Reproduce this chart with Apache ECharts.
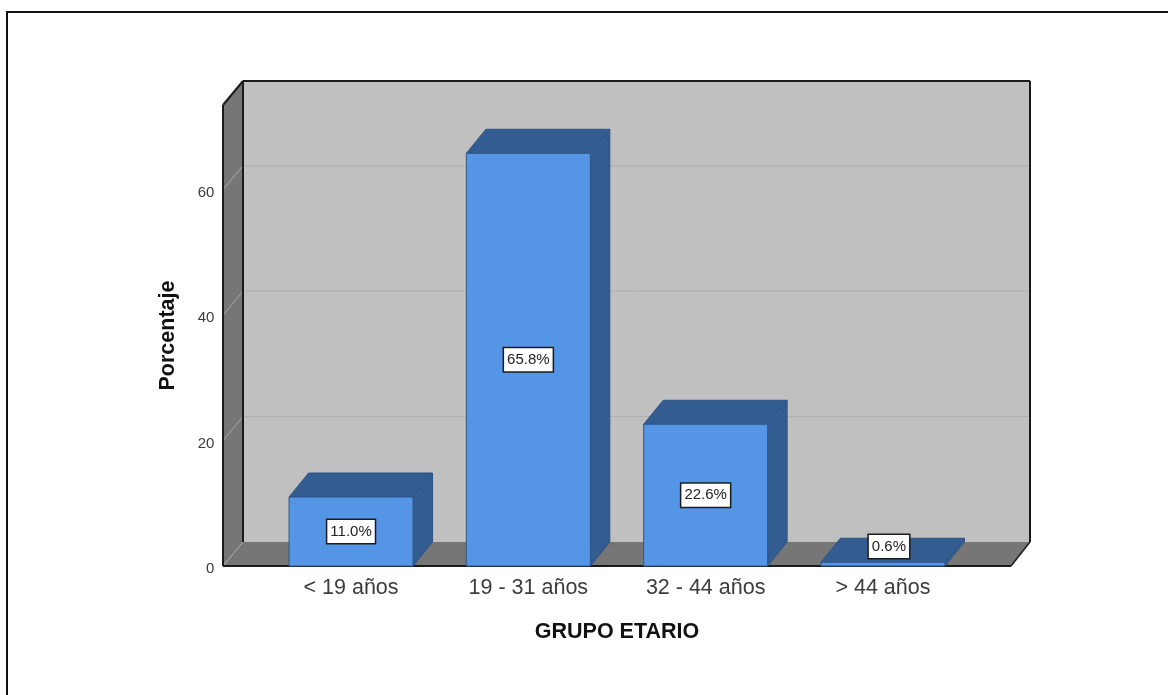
<!DOCTYPE html>
<html>
<head>
<meta charset="utf-8">
<style>
  html, body { margin: 0; padding: 0; background: #fff; }
  #chart { width: 1168px; height: 695px; }
</style>
<script src="https://cdn.jsdelivr.net/npm/echarts@6/dist/echarts.min.js"></script>
</head>
<body>
<div id="chart"></div>
<script>
// Percentage of respondents per age group
const categories = ['< 19 años', '19 - 31 años', '32 - 44 años', '> 44 años'];
const percentages = [11.0, 65.8, 22.6, 0.6];
const gridTicks = [20, 40, 60];
const yMax = 73.5;

// Box-drawing settings for the faux 3D chamber
const depthX = 20;
const depthY = 24;
const barWidth = 124;
const wallGap = 39.4;
const colors = {
  front: '#5595e6', shade: '#335c91', edge: '#2f5587',
  wall: '#c0c0c0', dark: '#767676', grid: '#b0b0b0', sideGrid: '#a8a8a8', ink: '#1a1a1a'
};
const fontFamily = '"Liberation Sans", Arial, sans-serif';

function poly(points, fill, stroke) {
  return {
    type: 'polygon',
    shape: { points },
    style: { fill, stroke: stroke || null, lineWidth: stroke ? 1 : 0 }
  };
}
function line(a, b, stroke, lineWidth) {
  return {
    type: 'line',
    shape: { x1: a[0], y1: a[1], x2: b[0], y2: b[1] },
    style: { stroke, lineWidth: lineWidth || 1 }
  };
}

// Walls, floor and gridlines of the chamber
function renderChamber(params, api) {
  const band = api.size([1, 0])[0];
  const left = api.coord([0, 0])[0] - band / 2 - wallGap;
  const right = api.coord([categories.length - 1, 0])[0] + band / 2 + wallGap;
  const base = api.coord([0, 0])[1];
  const top = api.coord([0, yMax])[1];
  const backL = left + depthX, backR = right + depthX - 1;
  const backBase = base - depthY, backTop = top - depthY;
  const children = [
    poly([[backL, backTop], [backR, backTop], [backR, backBase], [backL, backBase]], colors.wall),
    poly([[left, base], [backL, backBase], [backL, backTop], [left, top]], colors.dark),
    poly([[left, base], [right, base], [backR, backBase], [backL, backBase]], colors.dark)
  ];
  gridTicks.forEach(function (t) {
    const y = api.coord([0, t])[1];
    children.push(line([left, y], [backL, y - depthY], colors.sideGrid));
    children.push(line([backL, y - depthY], [backR, y - depthY], colors.grid));
  });
  children.push(line([left, base], [backL, backBase], colors.sideGrid));
  children.push(line([backL, backTop], [backR, backTop], colors.ink, 2));
  children.push(line([backR, backTop], [backR, backBase], colors.ink, 2));
  children.push(line([backL, backTop], [backL, backBase], colors.ink, 2));
  children.push(line([left, top], [backL, backTop], colors.ink, 2));
  children.push(line([left, top], [left, base], colors.ink, 2));
  children.push(line([right, base], [backR, backBase], colors.ink, 1.5));
  children.push(line([left, base], [right, base], colors.ink, 2));
  return { type: 'group', children };
}

// One extruded column: side, top, then the front face
function renderBar(params, api) {
  const cat = api.value(0);
  const base = api.coord([cat, 0]);
  const head = api.coord([cat, api.value(1)]);
  const x0 = base[0] - barWidth / 2, x1 = base[0] + barWidth / 2;
  const yb = base[1], yt = head[1];
  const dx = depthX - 0.5;
  return {
    type: 'group',
    children: [
      poly([[x1, yb], [x1 + dx, yb - depthY], [x1 + dx, yt - depthY], [x1, yt]], colors.shade, colors.edge),
      poly([[x0, yt], [x0 + dx, yt - depthY], [x1 + dx, yt - depthY], [x1, yt]], colors.shade, colors.edge),
      poly([[x0, yt], [x1, yt], [x1, yb], [x0, yb]], colors.front, colors.edge)
    ]
  };
}

// Value tag: centred on the front face unless that face is too short to hold it
function renderTag(params, api) {
  const cat = api.value(0);
  const value = api.value(1);
  const base = api.coord([cat, 0]);
  const head = api.coord([cat, value]);
  const tooShort = base[1] - head[1] < 20;
  const cx = base[0] + (tooShort ? 6 : 0);
  const cy = tooShort ? base[1] - 19.5 : (base[1] + head[1]) / 2;
  return {
    type: 'text',
    x: cx,
    y: cy,
    style: {
      text: value.toFixed(1) + '%',
      align: 'center',
      verticalAlign: 'middle',
      font: '15px ' + fontFamily,
      fill: '#222',
      backgroundColor: '#fff',
      borderColor: '#1c1c1c',
      borderWidth: 1.5,
      padding: [5, 3, 3, 3]
    }
  };
}

const pairs = categories.map(function (c, i) { return [i, percentages[i]]; });

const chart = echarts.init(document.getElementById('chart'), null, { renderer: 'canvas' });
chart.setOption({
  animation: false,
  backgroundColor: '#fff',
  grid: { left: 262.4, width: 709.2, top: 105, height: 461 },
  xAxis: {
    type: 'category',
    data: categories,
    axisLine: { show: false },
    axisTick: { show: false },
    axisLabel: {
      margin: 11,
      color: '#3c3c3c',
      fontFamily,
      fontSize: 21.5
    },
    name: 'GRUPO ETARIO',
    nameLocation: 'middle',
    nameGap: 55,
    nameTextStyle: { color: '#111', fontWeight: 'bold', fontSize: 21.5, fontFamily }
  },
  yAxis: {
    type: 'value',
    min: 0,
    max: yMax,
    interval: 20,
    axisLine: { show: false },
    axisTick: { show: false },
    splitLine: { show: false },
    axisLabel: {
      margin: 48,
      showMaxLabel: false,
      // The top padding lowers each number a little below its gridline
      formatter: '{tick|{value}}',
      rich: {
        tick: { color: '#3c3c3c', fontFamily, fontSize: 15, padding: [6, 0, 0, 0] }
      }
    },
    name: 'Porcentaje',
    nameLocation: 'middle',
    nameGap: 83,
    nameRotate: 90,
    nameTextStyle: { color: '#111', fontWeight: 'bold', fontSize: 21.5, fontFamily }
  },
  series: [
    { type: 'custom', renderItem: renderChamber, data: [[0, 0]], clip: false, silent: true, z: 1 },
    { type: 'custom', renderItem: renderBar, data: pairs, clip: false, silent: true, z: 2 },
    { type: 'custom', renderItem: renderTag, data: pairs, clip: false, silent: true, z: 3 }
  ],
  graphic: [
    {
      type: 'polyline',
      silent: true,
      shape: { points: [[7, 695], [7, 12], [1168, 12]] },
      style: { stroke: '#111', lineWidth: 2, fill: null }
    }
  ]
});
</script>
</body>
</html>
